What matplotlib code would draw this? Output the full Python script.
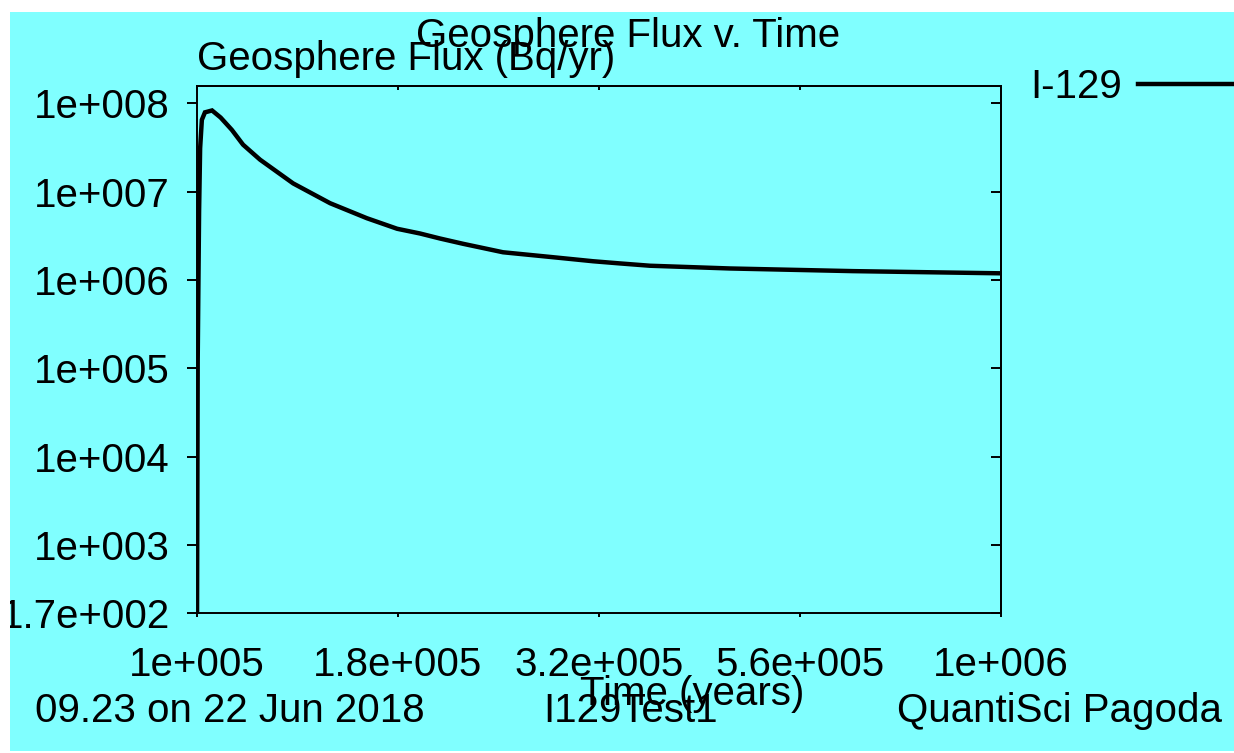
import matplotlib
matplotlib.use("Agg")
import matplotlib.pyplot as plt
from matplotlib.patches import Rectangle
from matplotlib.ticker import FixedLocator, FixedFormatter, NullLocator, NullFormatter

# I-129 geosphere flux from the I129Test1 run
time_years = [1.000e5, 1.002e5, 1.006e5, 1.009e5, 1.014e5, 1.023e5, 1.044e5,
              1.070e5, 1.105e5, 1.141e5, 1.198e5, 1.317e5, 1.464e5, 1.627e5,
              1.774e5, 1.894e5, 2.005e5, 2.142e5, 2.402e5, 2.773e5, 3.109e5,
              3.358e5, 3.659e5, 4.602e5, 6.545e5, 1.000e6]
flux_bq_yr = [1.0e2, 1.2e5, 6.0e6, 3.1e7, 6.5e7, 7.9e7, 8.3e7,
              6.9e7, 5.0e7, 3.4e7, 2.3e7, 1.24e7, 7.4e6, 5.0e6,
              3.8e6, 3.36e6, 2.95e6, 2.57e6, 2.06e6, 1.81e6, 1.63e6,
              1.54e6, 1.45e6, 1.35e6, 1.26e6, 1.19e6]

x_ticks = [1.0e5, 1.778e5, 3.162e5, 5.623e5, 1.0e6]
x_ticklabels = ["1e+005", "1.8e+005", "3.2e+005", "5.6e+005", "1e+006"]
y_ticks = [170, 1e3, 1e4, 1e5, 1e6, 1e7, 1e8]
y_ticklabels = ["1.7e+002", "1e+003", "1e+004", "1e+005", "1e+006", "1e+007", "1e+008"]

W, H = 1234, 753
CYAN = "#80ffff"
FS = 29

plt.rcParams["font.family"] = ["Liberation Sans", "DejaVu Sans"]
plt.rcParams["font.size"] = FS

fig = plt.figure(figsize=(W / 100, H / 100), dpi=100, facecolor="white")
bg = Rectangle((10 / W, 2 / H), 1 - 10 / W, 1 - 14 / H,
               transform=fig.transFigure, facecolor=CYAN,
               edgecolor="none", zorder=-5)
fig.patches.append(bg)

ax = fig.add_axes([197 / W, 1 - 613 / H, 804 / W, 527 / H])
ax.set_facecolor(CYAN)
line, = ax.plot(time_years, flux_bq_yr, color="black", lw=3.2, solid_joinstyle="miter")
ax.set_xscale("log")
ax.set_yscale("log")
ax.set_xlim(1e5, 1e6)
ax.set_ylim(170, 1.57e8)

for s in ax.spines.values():
    s.set_linewidth(1.4)
    s.set_color("black")

ax.xaxis.set_major_locator(FixedLocator(x_ticks))
ax.xaxis.set_major_formatter(FixedFormatter(x_ticklabels))
ax.xaxis.set_minor_locator(NullLocator())
ax.yaxis.set_major_locator(FixedLocator(y_ticks))
ax.yaxis.set_major_formatter(FixedFormatter(y_ticklabels))
ax.yaxis.set_minor_locator(NullLocator())
ax.tick_params(axis="y", direction="out", length=7, width=1.4, pad=12.5, labelsize=FS)
ax.tick_params(axis="x", direction="out", length=3, width=1.4, pad=21, labelsize=FS)

# bottom y label runs past the left margin, so clip it to the panel
for tick in ax.yaxis.get_major_ticks():
    tick.label1.set_clip_path(bg)

# inward ticks on the right and top edges
right = ax.secondary_yaxis("right")
right.yaxis.set_major_locator(FixedLocator(y_ticks))
right.yaxis.set_major_formatter(NullFormatter())
right.yaxis.set_minor_locator(NullLocator())
right.tick_params(direction="in", length=7, width=1.4)
top = ax.secondary_xaxis("top")
top.xaxis.set_major_locator(FixedLocator(x_ticks))
top.xaxis.set_major_formatter(NullFormatter())
top.xaxis.set_minor_locator(NullLocator())
top.tick_params(direction="in", length=3, width=1.4)
for sec in (right, top):
    for s in sec.spines.values():
        s.set_linewidth(1.4)

ax.set_ylabel("Geosphere Flux (Bq/yr)", rotation=0, ha="left", va="baseline", fontsize=FS)
ax.yaxis.set_label_coords(0, 1 + (86 - 70) / 527)
ax.set_xlabel("Time (years)", ha="center", va="baseline", fontsize=FS)
ax.xaxis.set_label_coords((692 - 197) / 804, -(705 - 613) / 527)

fig.text(628 / W, 1 - 47 / H, "Geosphere Flux v. Time", ha="center", va="baseline", fontsize=FS)
fig.text(35 / W, 1 - 722 / H, "09.23 on 22 Jun 2018", ha="left", va="baseline", fontsize=FS)
fig.text(543 / W, 1 - 722 / H, "I129Test1", ha="left", va="baseline", fontsize=FS)
fig.text(1222 / W, 1 - 722 / H, "QuantiSci Pagoda", ha="right", va="baseline", fontsize=FS)

ax.legend([line], ["I-129"], loc="center left", bbox_to_anchor=(1030 / W, 1 - 87 / H),
          bbox_transform=fig.transFigure, frameon=False, markerfirst=False,
          handlelength=3.0, handletextpad=0.4, borderpad=0, borderaxespad=0,
          fontsize=FS)

fig.savefig("out.png", dpi=100, facecolor="white")
